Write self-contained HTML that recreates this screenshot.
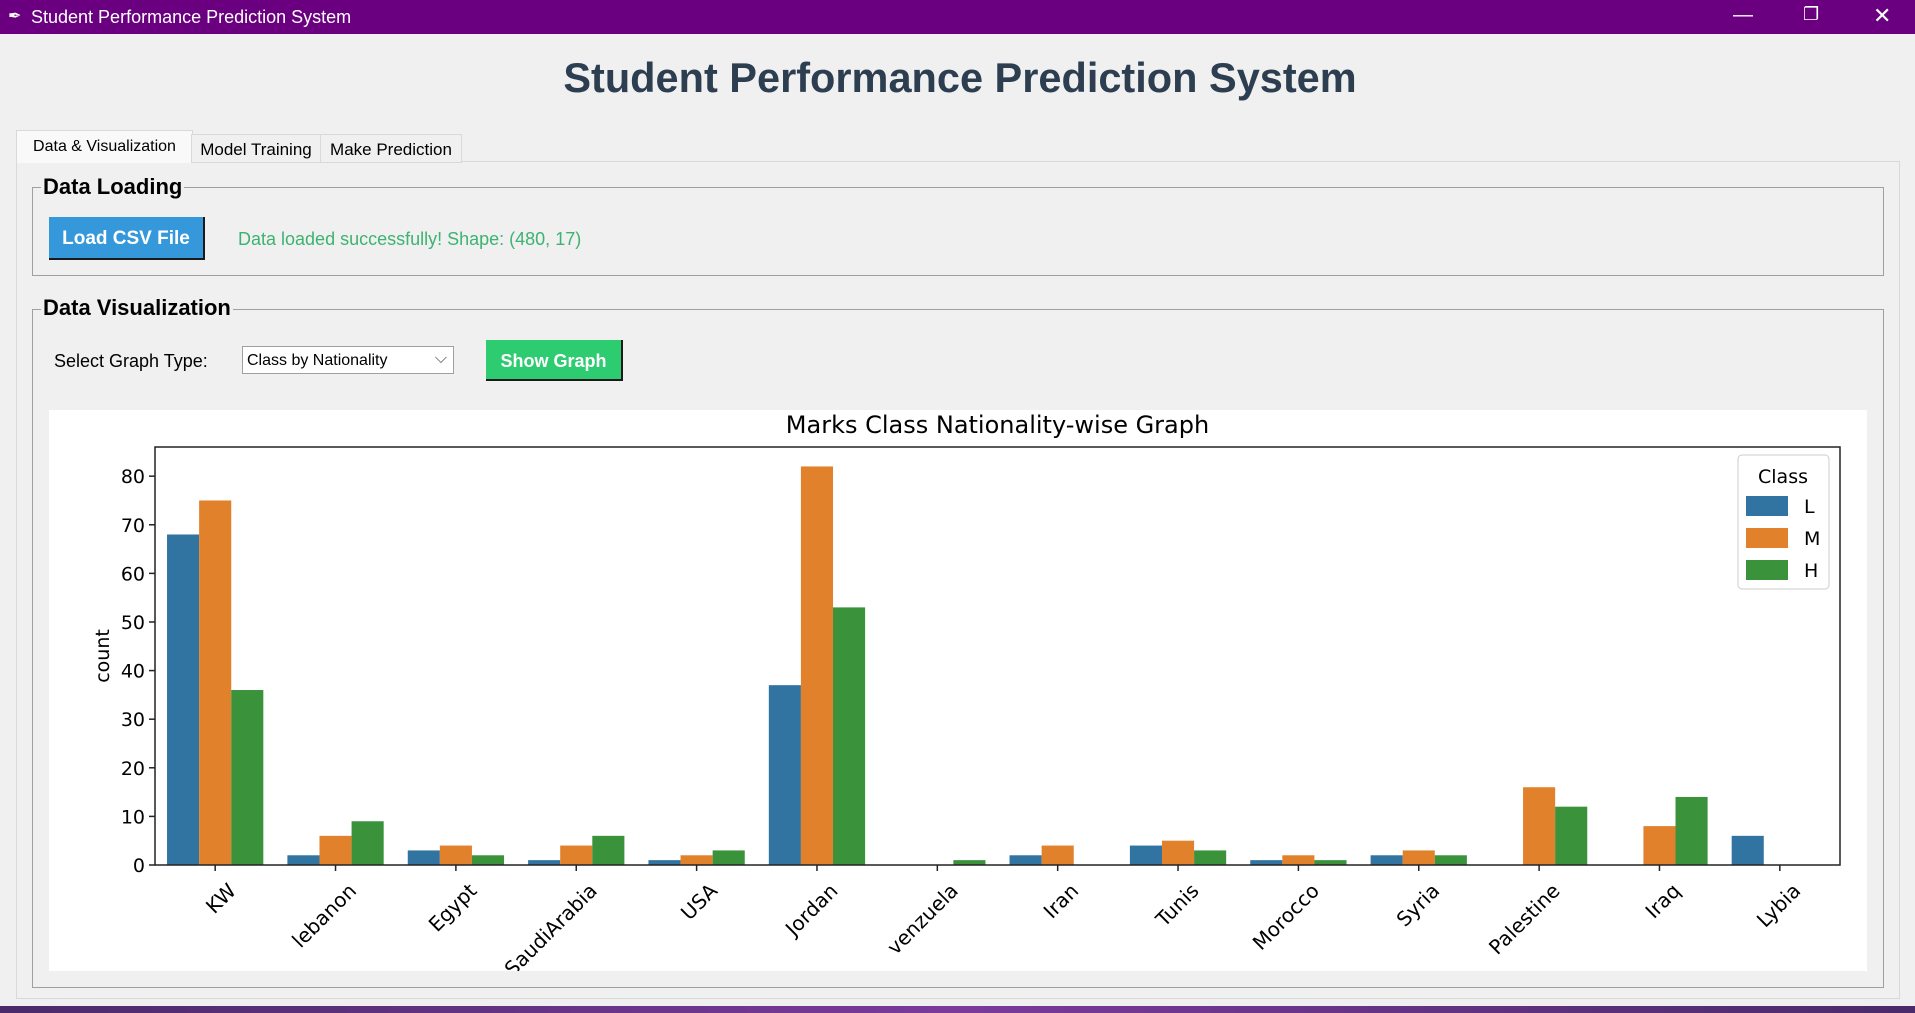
<!DOCTYPE html>
<html><head><meta charset="utf-8"><style>
body{margin:0;width:1915px;height:1013px;overflow:hidden;background:#f0f0f0;font-family:"Liberation Sans",sans-serif;position:relative}
.abs{position:absolute}
</style></head><body>
<div class="abs" style="left:0;top:0;width:1915px;height:34px;background:#6a0080;color:#fff;font-size:18px">
<span class="abs" style="left:8px;top:6px;font-size:16px">✒</span>
<span class="abs" style="left:31px;top:7px">Student Performance Prediction System</span>
<span class="abs" style="left:1733px;top:4px;font-size:20px">—</span>
<span class="abs" style="left:1803px;top:4px;font-size:18px">❐</span>
<span class="abs" style="left:1873px;top:3px;font-size:22px">✕</span>
</div>
<div class="abs" style="left:0;top:54px;width:1920px;text-align:center;font-size:41.5px;font-weight:bold;color:#2c3e50">Student Performance Prediction System</div>
<div class="abs" style="left:16px;top:161px;width:1882px;height:836px;border:1px solid #d9d9d9;background:#f0f0f0"></div>
<div class="abs" style="left:16px;top:130px;width:175px;height:32px;background:#f9f9f9;border:1px solid #d9d9d9;border-bottom:none;font-size:16px;line-height:32px;text-align:center">Data &amp; Visualization</div>
<div class="abs" style="left:191px;top:134px;width:128px;height:27px;background:#f0f0f0;border:1px solid #d9d9d9;font-size:17px;line-height:30px;text-align:center">Model Training</div>
<div class="abs" style="left:320px;top:134px;width:140px;height:27px;background:#f0f0f0;border:1px solid #d9d9d9;font-size:17px;line-height:30px;text-align:center">Make Prediction</div>

<div class="abs" style="left:32px;top:187px;width:1850px;height:87px;border:1px solid #a0a0a0"></div>
<div class="abs" style="left:41px;top:174px;background:#f0f0f0;padding:0 2px;font-size:22px;font-weight:bold">Data Loading</div>
<div class="abs" style="left:49px;top:217px;width:154px;height:41px;background:#3498db;border-right:2px solid #1a1a1a;border-bottom:2px solid #1a1a1a;color:#fff;font-weight:bold;font-size:19px;line-height:44px;text-align:center">Load CSV File</div>
<div class="abs" style="left:238px;top:229px;font-size:18px;color:#3cb371">Data loaded successfully! Shape: (480, 17)</div>

<div class="abs" style="left:32px;top:309px;width:1850px;height:677px;border:1px solid #a0a0a0"></div>
<div class="abs" style="left:41px;top:295px;background:#f0f0f0;padding:0 2px;font-size:22px;font-weight:bold">Data Visualization</div>
<div class="abs" style="left:54px;top:351px;font-size:18px">Select Graph Type:</div>
<div class="abs" style="left:242px;top:346px;width:212px;height:28px;background:#fff;border:1px solid #a0a0a0;font-size:16px;line-height:28px;padding-left:4px;box-sizing:border-box">Class by Nationality<span class="abs" style="right:6px;top:-2px;color:#555">⌵</span></div>
<div class="abs" style="left:486px;top:340px;width:135px;height:39px;background:#2ecc71;border-right:2px solid #1a1a1a;border-bottom:2px solid #1a1a1a;color:#fff;font-weight:bold;font-size:18px;line-height:42px;text-align:center">Show Graph</div>

<svg class="abs" style="left:49px;top:410px" width="1818" height="561" id="chart"></svg>
<div class="abs" style="left:0;top:1006px;width:1915px;height:7px;background:linear-gradient(90deg,#4a2a6a,#7a3a9a,#4a2a6a)"></div>

<script>
const categories=["KW","lebanon","Egypt","SaudiArabia","USA","Jordan","venzuela","Iran","Tunis","Morocco","Syria","Palestine","Iraq","Lybia"];
const seriesL=[68,2,3,1,1,37,0,2,4,1,2,0,0,6];
const seriesM=[75,6,4,4,2,82,0,4,5,2,3,16,8,0];
const seriesH=[36,9,2,6,3,53,1,0,3,1,2,12,14,0];
const yTicks=[0,10,20,30,40,50,60,70,80];
const seriesNames=["L","M","H"];
const colors=["#3274a1","#e1812c","#3a923a"];
const NS="http://www.w3.org/2000/svg";
const svg=document.getElementById('chart');
const ox=49,oy=410;
const L=155-ox,R=1840-ox,T=447-oy,B=865-oy,YMAX=86;
function y(v){return B-(B-T)*v/YMAX;}
const bw=(R-L)/categories.length;
function xc(i){return L+bw*(i+0.5);}
function mk(tag,attrs){const e=document.createElementNS(NS,tag);for(const k in attrs)e.setAttribute(k,attrs[k]);svg.appendChild(e);return e;}
const bg=mk('rect',{x:0,y:0,width:1818,height:561,fill:'#fff'});


const t=mk('text',{x:(L+R)/2,y:23,'text-anchor':'middle','font-size':24,'font-family':'DejaVu Sans, sans-serif'});
t.textContent='Marks Class Nationality-wise Graph';


const all=[seriesL,seriesM,seriesH];
const sw=bw*0.8/3;
all.forEach((s,si)=>{s.forEach((v,i)=>{
 const r=mk('rect',{x:xc(i)-bw*0.4+si*sw,y:y(v),width:sw,height:B-y(v),fill:colors[si]});
 
 
});});
const frame=mk('rect',{x:L,y:T,width:R-L,height:B-T,fill:'none',stroke:'#222','stroke-width':1.5});


yTicks.forEach(v=>{
 const tk=mk('line',{x1:L-6,x2:L,y1:y(v),y2:y(v),stroke:'#222','stroke-width':1.5});
 
 
 const lb=mk('text',{x:L-10,y:y(v)+7,'text-anchor':'end','font-size':19,'font-family':'DejaVu Sans, sans-serif'});
 lb.textContent=v;
 
 
});
categories.forEach((c,i)=>{
 const tk=mk('line',{x1:xc(i),x2:xc(i),y1:B,y2:B+6,stroke:'#222','stroke-width':1.5});
 
 
 const lb=mk('text',{x:0,y:0,'text-anchor':'end','font-size':20,'font-family':'DejaVu Sans, sans-serif',transform:`translate(${xc(i)+22},${B+27}) rotate(-45)`});
 lb.textContent=c;
 
 
});
const yl=mk('text',{x:0,y:0,'text-anchor':'middle','font-size':19,'font-family':'DejaVu Sans, sans-serif',transform:`translate(${L-46},${(T+B)/2}) rotate(-90)`});
yl.textContent='count';


const lx=1738-ox,ly=455-oy;
const lg=mk('rect',{x:lx,y:ly,width:91,height:134,rx:4,fill:'#fff',stroke:'#ccc'});


const lt=mk('text',{x:lx+45,y:ly+28,'text-anchor':'middle','font-size':19,'font-family':'DejaVu Sans, sans-serif'});
lt.textContent='Class';


seriesNames.forEach((n,si)=>{
 const sy=ly+50+si*32;
 const sq=mk('rect',{x:lx+8,y:sy-9,width:42,height:20,fill:colors[si]});
 
 
 const tx=mk('text',{x:lx+66,y:sy+8,'font-size':19,'font-family':'DejaVu Sans, sans-serif'});
 tx.textContent=n;
 
 
});
</script>
</body></html>
